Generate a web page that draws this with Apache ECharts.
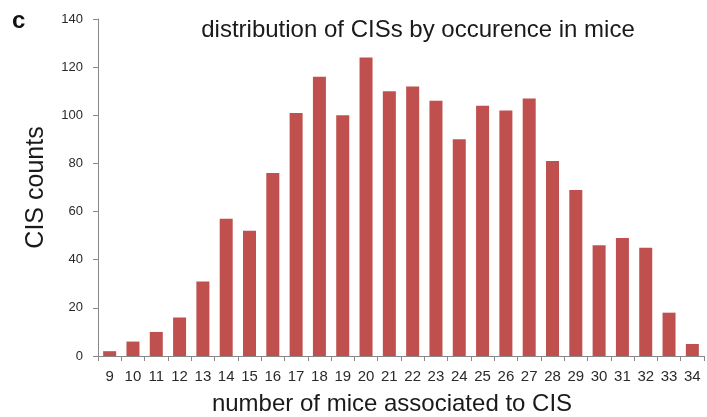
<!DOCTYPE html>
<html><head><meta charset="utf-8">
<script src="https://cdn.jsdelivr.net/npm/echarts@6/dist/echarts.min.js"></script>
<style>html,body{margin:0;padding:0;background:#fff}#c{width:707px;height:417px}</style>
</head><body><div id="c"></div>
<script>
var categories = ['9','10','11','12','13','14','15','16','17','18','19','20','21','22','23','24','25','26','27','28','29','30','31','32','33','34'];
var counts = [2,6,10,16,31,57,52,76,101,116,100,124,110,112,106,90,104,102,107,81,69,46,49,45,18,5];
var yTicks = [0,20,40,60,80,100,120,140];
var chart = echarts.init(document.getElementById('c'));
var F = 'Liberation Sans, Arial, sans-serif';
chart.setOption({
  animation:false,
  title:[{text:'distribution of CISs by occurence in mice',left:413,top:13,textAlign:'center',
    textStyle:{fontFamily:F,fontSize:24,fontWeight:'normal',color:'#1a1a1a'}},
    {text:'c',left:7,top:4,textStyle:{fontFamily:F,fontSize:24,fontWeight:'bold',color:'#111'}},
    {text:'number of mice associated to CIS',left:387,top:387,textAlign:'center',
    textStyle:{fontFamily:F,fontSize:24,fontWeight:'normal',color:'#1a1a1a'}}],
  grid:{left:98,right:3,top:19,bottom:61,containLabel:false},
  xAxis:{type:'category',data:categories,
    axisLine:{lineStyle:{color:'#888'}},
    axisTick:{show:true,alignWithLabel:false,length:5,lineStyle:{color:'#888'}},
    axisLabel:{fontFamily:F,fontSize:15,color:'#2a2a2a',margin:13,interval:0}},
  yAxis:{type:'value',min:0,max:140,interval:20,
    name:'CIS counts',nameLocation:'middle',nameGap:49,
    nameTextStyle:{fontFamily:F,fontSize:25,color:'#1a1a1a'},
    axisLine:{show:true,lineStyle:{color:'#888'}},
    axisTick:{show:true,length:5,lineStyle:{color:'#888'}},
    splitLine:{show:false},
    axisLabel:{fontFamily:F,fontSize:13,color:'#2a2a2a',margin:15,
      formatter:function(v){return yTicks.indexOf(v)>=0?String(v):'';}}},
  series:[{type:'bar',data:counts,barWidth:13,itemStyle:{color:'#C0504D'}}]
});
</script></body></html>
